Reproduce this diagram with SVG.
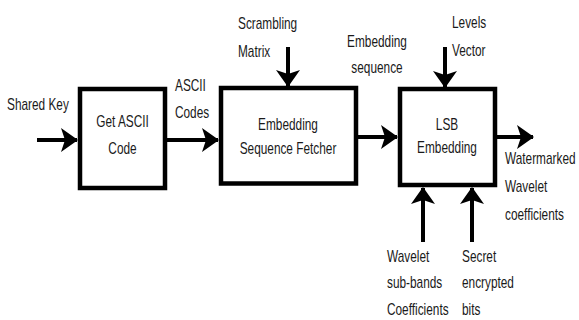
<svg xmlns="http://www.w3.org/2000/svg" width="579" height="320" viewBox="0 0 579 320">
<style>
.box{fill:#fff;stroke:#000;stroke-width:4.5}
.ln{fill:none;stroke:#000;stroke-width:4}
text{font-family:"Liberation Sans",Arial,sans-serif;font-size:16px;fill:#1a1a1a}
.c{text-anchor:middle}
</style>
<defs>
<marker id="ah" markerUnits="userSpaceOnUse" markerWidth="18" markerHeight="26" refX="16" refY="12" orient="auto" viewBox="0 0 18 26">
<path d="M0,0 L17,12 L0,24 L4,12 Z" fill="#000"/>
</marker>
</defs>
<rect width="579" height="320" fill="#fff"/>
<g id="connectors">
<line class="ln" x1="37" y1="140" x2="77" y2="140" marker-end="url(#ah)"/>
<line class="ln" x1="167" y1="140" x2="218" y2="140" marker-end="url(#ah)"/>
<line class="ln" x1="358" y1="137" x2="397" y2="137" marker-end="url(#ah)"/>
<line class="ln" x1="497" y1="137" x2="533" y2="137" marker-end="url(#ah)"/>
<line class="ln" x1="288" y1="47" x2="288" y2="86" marker-end="url(#ah)"/>
<line class="ln" x1="445" y1="47" x2="445" y2="87" marker-end="url(#ah)"/>
<line class="ln" x1="423" y1="242" x2="423" y2="188" marker-end="url(#ah)"/>
<line class="ln" x1="472" y1="242" x2="472" y2="188" marker-end="url(#ah)"/>
<text transform="translate(7,110) scale(0.74,1)">Shared Key</text>
<text transform="translate(175,91) scale(0.74,1)"><tspan x="0" y="0">ASCII</tspan><tspan x="0" y="27">Codes</tspan></text>
<text transform="translate(238,29) scale(0.74,1)"><tspan x="0" y="0">Scrambling</tspan><tspan x="0" y="28">Matrix</tspan></text>
<text class="c" transform="translate(377,47) scale(0.74,1)"><tspan x="0" y="0">Embedding</tspan><tspan x="0" y="26">sequence</tspan></text>
<text transform="translate(452,28) scale(0.74,1)"><tspan x="0" y="0">Levels</tspan><tspan x="0" y="28">Vector</tspan></text>
<text transform="translate(505,164) scale(0.74,1)"><tspan x="0" y="0">Watermarked</tspan><tspan x="0" y="28">Wavelet</tspan><tspan x="0" y="56">coefficients</tspan></text>
<text transform="translate(387,262) scale(0.74,1)"><tspan x="0" y="0">Wavelet</tspan><tspan x="0" y="26">sub-bands</tspan><tspan x="0" y="53">Coefficients</tspan></text>
<text transform="translate(462,262) scale(0.74,1)"><tspan x="0" y="0">Secret</tspan><tspan x="0" y="26">encrypted</tspan><tspan x="0" y="53">bits</tspan></text>
</g>
<g id="get-ascii">
<rect class="box" x="80" y="89" width="85" height="99"/>
<text class="c" transform="translate(122.5,127) scale(0.74,1)"><tspan x="0" y="0">Get ASCII</tspan><tspan x="0" y="27">Code</tspan></text>
</g>
<g id="fetcher">
<rect class="box" x="221" y="88" width="135" height="95.5"/>
<text class="c" transform="translate(288,130) scale(0.74,1)"><tspan x="0" y="0">Embedding</tspan><tspan x="0" y="24">Sequence Fetcher</tspan></text>
</g>
<g id="lsb">
<rect class="box" x="400" y="89" width="95" height="96"/>
<text class="c" transform="translate(447,129.5) scale(0.74,1)"><tspan x="0" y="0">LSB</tspan><tspan x="0" y="24">Embedding</tspan></text>
</g>
</svg>
